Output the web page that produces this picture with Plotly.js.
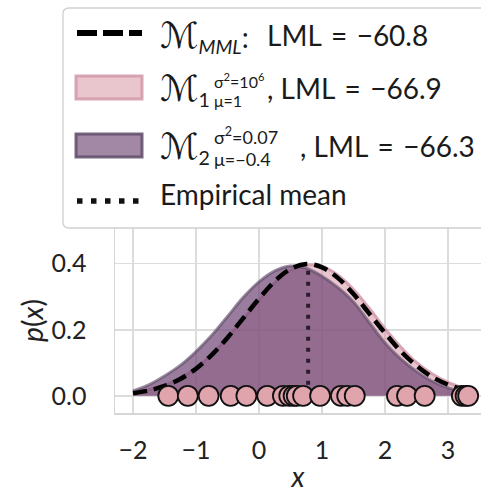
<!DOCTYPE html>
<html>
<head>
<meta charset="utf-8">
<script src="https://cdn.plot.ly/plotly-3.0.1.min.js"></script>
<style>html,body{margin:0;padding:0;background:#fff;}#chart{width:481px;height:493px;}</style>
</head>
<body>
<div id="chart"></div>
<script>
// ---- data ----
const xGrid = [-2, -1.75, -1.5, -1.25, -1, -0.75, -0.5, -0.25, 0, 0.25, 0.5, 0.75, 1, 1.25, 1.5, 1.75, 2, 2.25, 2.5, 2.75, 3, 3.25, 3.3];
const pMML = [0.008, 0.016, 0.030, 0.051, 0.082, 0.124, 0.176, 0.235, 0.294, 0.347, 0.384, 0.399, 0.389, 0.357, 0.308, 0.249, 0.190, 0.135, 0.091, 0.057, 0.034, 0.019, 0.017];
const pM1  = [0.010, 0.018, 0.032, 0.053, 0.084, 0.125, 0.176, 0.232, 0.289, 0.342, 0.380, 0.396, 0.392, 0.366, 0.322, 0.265, 0.203, 0.148, 0.101, 0.066, 0.041, 0.024, 0.021];
const pM2  = [0.015, 0.033, 0.060, 0.092, 0.134, 0.183, 0.240, 0.298, 0.345, 0.378, 0.393, 0.386, 0.362, 0.328, 0.284, 0.222, 0.160, 0.112, 0.074, 0.044, 0.024, 0.012, 0.010];
const samples = [-1.44, -1.13, -0.80, -0.45, -0.20, 0.13, 0.38, 0.48, 0.55, 0.60, 0.70, 0.97, 1.30, 1.40, 1.52, 2.19, 2.35, 2.63, 3.22, 3.28, 3.32];
const empiricalMean = 0.78;
const empiricalTop = 0.385;
const xTicks = [-2, -1, 0, 1, 2, 3];
const yTicks = [0, 0.2, 0.4];
const SP = '\u2004';
const MCAL = '<span style="font-size:36px">ℳ</span>';
const legendMain = [MCAL + '<sub><i>MML</i></sub>:', MCAL + '<sub>1</sub>', MCAL + '<sub>2</sub>', 'Empirical mean'];
const legendSup = ['', 'σ<sup>2</sup>=10<sup>6</sup>', 'σ<sup>2</sup>=0.07', ''];
const legendSub = ['', 'μ=1', 'μ=−0.4', ''];
const legendTail = ['LML' + SP + '=' + SP + '−60.8', ', LML' + SP + '=' + SP + '−66.9', ', LML' + SP + '=' + SP + '−66.3', ''];

// ---- geometry helpers (pixel -> paper) ----
const W = 481, Hh = 493;
const mL = 115, mR = 0, mT = 228, mB = 80;
const pw = W - mL - mR, ph = Hh - mT - mB;
const px = v => (v - mL) / pw;
const py = v => (Hh - mB - v) / ph;

const FONT = 'Lato, DejaVu Sans, sans-serif';
const pinkFill = 'rgba(215,150,165,0.55)';
const pinkLine = 'rgba(210,150,168,0.85)';
const purpFill = 'rgba(115,74,120,0.72)';
const purpLine = 'rgba(95,75,105,0.65)';

const traces = [
  {x: xGrid, y: pM1, type: 'scatter', mode: 'lines', fill: 'tozeroy', fillcolor: pinkFill,
   line: {color: pinkLine, width: 3, shape: 'spline'}, hoverinfo: 'skip'},
  {x: xGrid, y: pM2, type: 'scatter', mode: 'lines', fill: 'tozeroy', fillcolor: purpFill,
   line: {color: purpLine, width: 3, shape: 'spline'}, hoverinfo: 'skip'},
  {x: xGrid, y: pMML, type: 'scatter', mode: 'lines',
   line: {color: '#000', width: 4.5, dash: '14px,7px', shape: 'spline'}},
  {x: [empiricalMean, empiricalMean], y: [0, empiricalTop], type: 'scatter', mode: 'lines',
   line: {color: '#2a1e2e', width: 4, dash: '4px,7px'}},
  {x: samples, y: samples.map(() => 0), type: 'scatter', mode: 'markers', cliponaxis: false,
   marker: {size: 20, color: '#e0a4ad', line: {color: '#111', width: 1.8}}}
];

// ---- manual legend ----
const bx0 = 63, bx1 = 600, by0 = 8, by1 = 228, r = 6;
const boxPath = `M${px(bx0 + r)},${py(by0)} L${px(bx1)},${py(by0)} L${px(bx1)},${py(by1)} L${px(bx0 + r)},${py(by1)} ` +
  `Q${px(bx0)},${py(by1)} ${px(bx0)},${py(by1 - r)} L${px(bx0)},${py(by0 + r)} Q${px(bx0)},${py(by0)} ${px(bx0 + r)},${py(by0)} Z`;

const shapes = [
  {type: 'path', xref: 'paper', yref: 'paper', path: boxPath, fillcolor: 'rgba(255,255,255,0.9)', line: {color: '#cfcfcf', width: 1.3}, layer: 'above'},
  {type: 'line', xref: 'paper', yref: 'paper', x0: px(77), x1: px(142), y0: py(33), y1: py(33), line: {color: '#000', width: 6, dash: '20px,6px'}, layer: 'above'},
  {type: 'rect', xref: 'paper', yref: 'paper', x0: px(76), x1: px(142), y0: py(76), y1: py(99), fillcolor: pinkFill, line: {color: pinkLine, width: 3}, layer: 'above'},
  {type: 'rect', xref: 'paper', yref: 'paper', x0: px(76), x1: px(142), y0: py(134), y1: py(157), fillcolor: 'rgba(115,74,120,0.66)', line: {color: 'rgba(95,75,105,0.85)', width: 3}, layer: 'above'},
  {type: 'line', xref: 'paper', yref: 'paper', x0: px(77), x1: px(142), y0: py(201), y1: py(201), line: {color: '#111', width: 5.5, dash: '5.5px,8.5px'}, layer: 'above'}
];

const rowY = [35, 88, 146, 194];
const annotations = [];
const mk = (text, x, y, size) => ({text: text, xref: 'paper', yref: 'paper', x: px(x), y: py(y), xanchor: 'left', yanchor: 'middle',
  showarrow: false, font: {family: FONT, size: size, color: '#1a1a1a'}});
legendMain.forEach((t, i) => annotations.push(mk(t, 158, rowY[i], 28)));
const supSize = [0, 16, 18, 0];
const supDy = [0, -8, -10, 0];
const subDy = [0, 13, 13, 0];
const tailX = [265, 265, 298, 0];
legendSup.forEach((t, i) => { if (t) annotations.push(mk(t, 212, rowY[i] + supDy[i], supSize[i])); });
legendSub.forEach((t, i) => { if (t) annotations.push(mk(t, 212, rowY[i] + subDy[i], supSize[i])); });
legendTail.forEach((t, i) => { if (t) annotations.push(mk(t, tailX[i], rowY[i], 28)); });

const layout = {
  width: W, height: Hh,
  margin: {l: mL, r: mR, t: mT, b: mB, pad: 0},
  paper_bgcolor: '#fff', plot_bgcolor: '#fff',
  showlegend: false,
  font: {family: FONT, color: '#222'},
  xaxis: {range: [-2.286, 3.524], tickvals: xTicks, ticktext: xTicks.map(v => v < 0 ? '−' + Math.abs(v) : String(v)),
    showgrid: true, gridcolor: '#dcdcdc', gridwidth: 1.5, zeroline: false,
    showline: true, linecolor: '#d6d6d6', linewidth: 1.5, mirror: true,
    ticks: '', ticklabelstandoff: 14, tickfont: {family: FONT, size: 25, color: '#222'},
    automargin: false,
    title: {text: '<i>x</i>', font: {family: FONT, size: 28, color: '#222'}, standoff: 13}},
  yaxis: {range: [-0.052, 0.508], tickvals: yTicks, ticktext: yTicks.map(v => v.toFixed(1)),
    showgrid: true, gridcolor: '#dcdcdc', gridwidth: 1.5, zeroline: false,
    showline: true, linecolor: '#d6d6d6', linewidth: 1.5, mirror: false,
    ticks: '', ticklabelstandoff: 22, tickfont: {family: FONT, size: 25, color: '#222'},
    automargin: false,
    title: {text: '<i>p</i>(<i>x</i>)', font: {family: FONT, size: 28, color: '#222'}, standoff: 0}},
  shapes: shapes,
  annotations: annotations
};

Plotly.newPlot('chart', traces, layout, {staticPlot: true, displayModeBar: false});
</script>
</body>
</html>
